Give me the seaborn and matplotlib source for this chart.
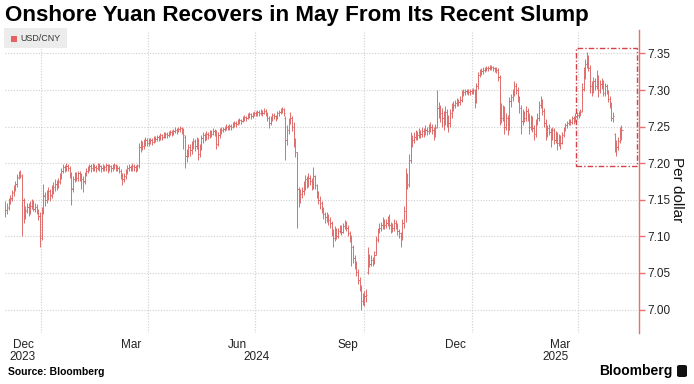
import matplotlib
matplotlib.use("Agg")
import matplotlib.pyplot as plt
import matplotlib.transforms as mtransforms
from matplotlib import font_manager
from matplotlib.patches import Rectangle, FancyBboxPatch
import numpy as np
import pandas as pd
import seaborn as sns

# ---- data : USD/CNY daily bars, 30 Nov 2023 -> 7 May 2025 (weekdays) ----
start_date = "2023-11-30"
end_date = "2025-05-07"

open_ = [
    7.132,
    # Dec 2023
    7.136, 7.139, 7.147, 7.151, 7.159, 7.166, 7.171, 7.181, 7.186, 7.183, 7.150, 7.128, 7.136, 7.140, 7.133, 7.142, 7.146, 7.138, 7.140, 7.135, 7.128,
    # Jan 2024
    7.100, 7.134, 7.156, 7.150, 7.158, 7.162, 7.156, 7.164, 7.168, 7.172, 7.170, 7.176, 7.181, 7.190, 7.195, 7.192, 7.196, 7.194, 7.184, 7.166, 7.178, 7.185, 7.180,
    # Feb 2024
    7.186, 7.182, 7.178, 7.176, 7.185, 7.190, 7.192, 7.196, 7.193, 7.197, 7.195, 7.194, 7.198, 7.196, 7.194, 7.196, 7.195, 7.197, 7.193, 7.196, 7.194,
    # Mar 2024
    7.196, 7.197, 7.195, 7.194, 7.190, 7.184, 7.178, 7.182, 7.188, 7.193, 7.195, 7.194, 7.196, 7.195, 7.192, 7.197, 7.222, 7.226, 7.224, 7.228, 7.232,
    # Apr 2024
    7.228, 7.230, 7.232, 7.229, 7.234, 7.233, 7.236, 7.234, 7.238, 7.236, 7.239, 7.240, 7.238, 7.241, 7.243, 7.241, 7.244, 7.246, 7.244, 7.247, 7.248, 7.245,
    # May 2024
    7.236, 7.210, 7.214, 7.222, 7.218, 7.226, 7.230, 7.224, 7.232, 7.212, 7.222, 7.234, 7.238, 7.236, 7.240, 7.238, 7.242, 7.240, 7.244, 7.242, 7.226, 7.238, 7.244,
    # Jun 2024
    7.246, 7.247, 7.248, 7.250, 7.249, 7.251, 7.250, 7.253, 7.255, 7.254, 7.257, 7.259, 7.258, 7.261, 7.263, 7.262, 7.265, 7.267, 7.264, 7.267,
    # Jul 2024
    7.268, 7.268, 7.270, 7.268, 7.271, 7.269, 7.272, 7.268, 7.262, 7.255, 7.262, 7.266, 7.264, 7.262, 7.268, 7.270, 7.272, 7.274, 7.262, 7.232, 7.245, 7.258, 7.262,
    # Aug 2024
    7.250, 7.228, 7.215, 7.165, 7.150, 7.158, 7.162, 7.170, 7.178, 7.172, 7.180, 7.176, 7.168, 7.182, 7.170, 7.158, 7.150, 7.145, 7.138, 7.130, 7.126, 7.128,
    # Sep 2024
    7.122, 7.118, 7.105, 7.098, 7.110, 7.100, 7.108, 7.112, 7.106, 7.114, 7.118, 7.112, 7.104, 7.098, 7.085, 7.070, 7.062, 7.052, 7.040, 7.030, 7.012,
    # Oct 2024
    7.016, 7.018, 7.052, 7.072, 7.062, 7.068, 7.064, 7.078, 7.096, 7.108, 7.112, 7.115, 7.120, 7.116, 7.118, 7.122, 7.115, 7.110, 7.112, 7.118, 7.115, 7.108, 7.104,
    # Nov 2024
    7.098, 7.118, 7.135, 7.182, 7.172, 7.205, 7.225, 7.232, 7.236, 7.240, 7.238, 7.242, 7.240, 7.244, 7.242, 7.246, 7.244, 7.248, 7.250, 7.246, 7.240,
    # Dec 2024
    7.250, 7.275, 7.272, 7.268, 7.262, 7.258, 7.270, 7.262, 7.255, 7.268, 7.276, 7.280, 7.282, 7.284, 7.283, 7.286, 7.296, 7.297, 7.298, 7.299, 7.297, 7.298,
    # Jan 2025
    7.299, 7.300, 7.285, 7.305, 7.320, 7.325, 7.326, 7.328, 7.329, 7.330, 7.330, 7.331, 7.331, 7.330, 7.329, 7.328, 7.318, 7.275, 7.262, 7.275, 7.250, 7.262, 7.250,
    # Feb 2025
    7.285, 7.290, 7.298, 7.305, 7.300, 7.290, 7.275, 7.258, 7.268, 7.262, 7.272, 7.265, 7.250, 7.262, 7.248, 7.240, 7.255, 7.262, 7.280, 7.286,
    # Mar 2025
    7.272, 7.255, 7.240, 7.248, 7.242, 7.236, 7.245, 7.232, 7.240, 7.228, 7.236, 7.228, 7.238, 7.246, 7.252, 7.255, 7.258, 7.256, 7.262, 7.258, 7.264,
    # Apr 2025
    7.266, 7.268, 7.272, 7.302, 7.318, 7.335, 7.345, 7.330, 7.305, 7.300, 7.312, 7.305, 7.318, 7.300, 7.308, 7.312, 7.296, 7.305, 7.298, 7.288, 7.280, 7.262,
    # May 2025
    7.240, 7.225, 7.222, 7.230, 7.238,
]

high = [
    7.148,
    7.146, 7.152, 7.156, 7.164, 7.170, 7.176, 7.185, 7.190, 7.191, 7.185, 7.152, 7.142, 7.146, 7.145, 7.148, 7.151, 7.150, 7.145, 7.144, 7.138, 7.133,
    7.140, 7.172, 7.160, 7.164, 7.168, 7.165, 7.170, 7.175, 7.178, 7.177, 7.180, 7.186, 7.194, 7.199, 7.198, 7.200, 7.199, 7.196, 7.188, 7.182, 7.188, 7.188, 7.190,
    7.189, 7.186, 7.182, 7.188, 7.194, 7.196, 7.199, 7.199, 7.200, 7.199, 7.198, 7.200, 7.200, 7.198, 7.199, 7.198, 7.200, 7.199, 7.199, 7.198, 7.199,
    7.200, 7.199, 7.198, 7.196, 7.192, 7.187, 7.186, 7.192, 7.197, 7.199, 7.198, 7.200, 7.199, 7.197, 7.199, 7.228, 7.232, 7.230, 7.233, 7.236, 7.234,
    7.234, 7.235, 7.234, 7.237, 7.237, 7.239, 7.238, 7.241, 7.240, 7.242, 7.243, 7.242, 7.244, 7.246, 7.245, 7.247, 7.249, 7.248, 7.250, 7.251, 7.250, 7.248,
    7.238, 7.220, 7.226, 7.226, 7.230, 7.234, 7.233, 7.236, 7.234, 7.226, 7.238, 7.242, 7.241, 7.244, 7.243, 7.246, 7.245, 7.248, 7.247, 7.245, 7.242, 7.248, 7.249,
    7.250, 7.251, 7.253, 7.252, 7.254, 7.253, 7.256, 7.258, 7.257, 7.260, 7.262, 7.261, 7.264, 7.266, 7.265, 7.268, 7.270, 7.268, 7.270, 7.271,
    7.272, 7.273, 7.273, 7.274, 7.273, 7.275, 7.274, 7.270, 7.264, 7.265, 7.269, 7.268, 7.266, 7.271, 7.273, 7.275, 7.277, 7.276, 7.264, 7.252, 7.262, 7.270, 7.265,
    7.256, 7.235, 7.215, 7.168, 7.165, 7.168, 7.176, 7.184, 7.182, 7.186, 7.184, 7.180, 7.195, 7.184, 7.172, 7.162, 7.155, 7.148, 7.140, 7.134, 7.134, 7.131,
    7.126, 7.121, 7.110, 7.114, 7.112, 7.112, 7.116, 7.115, 7.118, 7.122, 7.121, 7.115, 7.108, 7.102, 7.088, 7.074, 7.066, 7.056, 7.044, 7.034, 7.022,
    7.026, 7.028, 7.085, 7.076, 7.074, 7.072, 7.080, 7.100, 7.112, 7.118, 7.120, 7.126, 7.124, 7.124, 7.128, 7.130, 7.120, 7.118, 7.124, 7.122, 7.118, 7.110, 7.106,
    7.124, 7.142, 7.193, 7.186, 7.212, 7.243, 7.238, 7.242, 7.246, 7.244, 7.248, 7.246, 7.250, 7.248, 7.252, 7.250, 7.254, 7.256, 7.253, 7.250, 7.254,
    7.300, 7.283, 7.280, 7.276, 7.272, 7.278, 7.274, 7.266, 7.274, 7.282, 7.285, 7.287, 7.289, 7.288, 7.292, 7.300, 7.301, 7.302, 7.302, 7.301, 7.301, 7.302,
    7.303, 7.302, 7.310, 7.325, 7.329, 7.330, 7.331, 7.332, 7.333, 7.333, 7.334, 7.334, 7.333, 7.332, 7.331, 7.330, 7.320, 7.282, 7.280, 7.278, 7.268, 7.266, 7.290,
    7.295, 7.302, 7.312, 7.310, 7.304, 7.292, 7.280, 7.274, 7.272, 7.278, 7.276, 7.268, 7.266, 7.264, 7.252, 7.260, 7.268, 7.285, 7.292, 7.288,
    7.276, 7.260, 7.252, 7.254, 7.248, 7.250, 7.248, 7.244, 7.242, 7.240, 7.238, 7.242, 7.250, 7.255, 7.258, 7.261, 7.261, 7.265, 7.264, 7.268, 7.270,
    7.272, 7.274, 7.310, 7.331, 7.342, 7.352, 7.348, 7.334, 7.312, 7.318, 7.316, 7.327, 7.320, 7.314, 7.316, 7.314, 7.310, 7.308, 7.300, 7.292, 7.284, 7.270,
    7.241, 7.232, 7.236, 7.250, 7.252,
]

low = [
    7.126,
    7.130, 7.136, 7.144, 7.148, 7.155, 7.162, 7.168, 7.178, 7.180, 7.100, 7.118, 7.124, 7.132, 7.128, 7.130, 7.138, 7.135, 7.133, 7.130, 7.122, 7.086,
    7.095, 7.130, 7.142, 7.145, 7.150, 7.148, 7.152, 7.158, 7.162, 7.164, 7.166, 7.172, 7.178, 7.186, 7.188, 7.190, 7.189, 7.180, 7.143, 7.160, 7.174, 7.176, 7.176,
    7.176, 7.165, 7.160, 7.172, 7.182, 7.186, 7.189, 7.188, 7.190, 7.190, 7.188, 7.191, 7.190, 7.188, 7.190, 7.189, 7.190, 7.186, 7.189, 7.188, 7.190,
    7.192, 7.190, 7.189, 7.186, 7.178, 7.170, 7.174, 7.179, 7.185, 7.189, 7.189, 7.190, 7.190, 7.188, 7.190, 7.194, 7.215, 7.218, 7.220, 7.224, 7.224,
    7.224, 7.226, 7.225, 7.227, 7.229, 7.230, 7.230, 7.232, 7.232, 7.234, 7.235, 7.234, 7.236, 7.238, 7.237, 7.239, 7.241, 7.240, 7.242, 7.243, 7.240, 7.220,
    7.193, 7.202, 7.208, 7.210, 7.212, 7.220, 7.216, 7.220, 7.205, 7.208, 7.218, 7.228, 7.230, 7.232, 7.233, 7.235, 7.236, 7.238, 7.237, 7.220, 7.224, 7.234, 7.240,
    7.242, 7.244, 7.245, 7.245, 7.246, 7.246, 7.248, 7.250, 7.250, 7.252, 7.254, 7.254, 7.256, 7.258, 7.258, 7.260, 7.262, 7.260, 7.262, 7.264,
    7.264, 7.265, 7.265, 7.266, 7.265, 7.267, 7.265, 7.258, 7.248, 7.252, 7.258, 7.260, 7.258, 7.260, 7.265, 7.267, 7.269, 7.264, 7.205, 7.225, 7.240, 7.254, 7.244,
    7.222, 7.208, 7.112, 7.140, 7.145, 7.152, 7.156, 7.164, 7.166, 7.168, 7.170, 7.163, 7.165, 7.165, 7.152, 7.144, 7.138, 7.132, 7.124, 7.118, 7.120, 7.115,
    7.112, 7.100, 7.085, 7.094, 7.096, 7.098, 7.104, 7.102, 7.104, 7.110, 7.108, 7.100, 7.092, 7.060, 7.064, 7.056, 7.046, 7.035, 7.025, 7.000, 7.006,
    7.005, 7.010, 7.048, 7.058, 7.060, 7.060, 7.062, 7.074, 7.092, 7.104, 7.108, 7.110, 7.110, 7.112, 7.114, 7.110, 7.104, 7.106, 7.108, 7.110, 7.102, 7.098, 7.085,
    7.095, 7.112, 7.120, 7.165, 7.168, 7.200, 7.222, 7.228, 7.232, 7.232, 7.234, 7.234, 7.236, 7.236, 7.238, 7.238, 7.240, 7.243, 7.240, 7.232, 7.236,
    7.248, 7.262, 7.256, 7.250, 7.246, 7.252, 7.250, 7.242, 7.250, 7.262, 7.272, 7.276, 7.278, 7.278, 7.280, 7.284, 7.292, 7.293, 7.294, 7.293, 7.293, 7.294,
    7.294, 7.275, 7.282, 7.302, 7.318, 7.321, 7.322, 7.324, 7.326, 7.326, 7.327, 7.327, 7.326, 7.325, 7.323, 7.312, 7.252, 7.255, 7.258, 7.240, 7.246, 7.238, 7.245,
    7.277, 7.285, 7.292, 7.294, 7.284, 7.268, 7.240, 7.252, 7.256, 7.258, 7.258, 7.240, 7.246, 7.242, 7.232, 7.236, 7.252, 7.258, 7.276, 7.266,
    7.250, 7.232, 7.236, 7.238, 7.222, 7.232, 7.226, 7.228, 7.218, 7.224, 7.220, 7.226, 7.236, 7.244, 7.248, 7.252, 7.252, 7.254, 7.254, 7.256, 7.260,
    7.262, 7.264, 7.270, 7.298, 7.315, 7.330, 7.326, 7.296, 7.292, 7.296, 7.300, 7.302, 7.290, 7.296, 7.302, 7.292, 7.292, 7.294, 7.284, 7.276, 7.258, 7.256,
    7.215, 7.210, 7.218, 7.228, 7.232,
]

close = [
    7.136,
    7.140, 7.148, 7.152, 7.160, 7.165, 7.172, 7.180, 7.186, 7.184, 7.150, 7.128, 7.135, 7.140, 7.132, 7.142, 7.145, 7.138, 7.140, 7.135, 7.128, 7.098,
    7.135, 7.155, 7.150, 7.158, 7.162, 7.155, 7.165, 7.168, 7.172, 7.170, 7.175, 7.180, 7.190, 7.195, 7.192, 7.196, 7.194, 7.185, 7.165, 7.178, 7.185, 7.180, 7.186,
    7.182, 7.178, 7.175, 7.185, 7.190, 7.192, 7.196, 7.193, 7.197, 7.195, 7.194, 7.198, 7.196, 7.194, 7.196, 7.195, 7.197, 7.193, 7.196, 7.194, 7.196,
    7.197, 7.195, 7.194, 7.190, 7.184, 7.178, 7.182, 7.188, 7.193, 7.195, 7.194, 7.196, 7.195, 7.192, 7.196, 7.222, 7.226, 7.224, 7.228, 7.232, 7.228,
    7.230, 7.232, 7.229, 7.234, 7.233, 7.236, 7.234, 7.238, 7.236, 7.239, 7.240, 7.238, 7.241, 7.243, 7.241, 7.244, 7.246, 7.244, 7.247, 7.248, 7.245, 7.238,
    7.210, 7.214, 7.222, 7.218, 7.226, 7.230, 7.224, 7.232, 7.212, 7.222, 7.234, 7.238, 7.236, 7.240, 7.238, 7.242, 7.240, 7.244, 7.242, 7.226, 7.238, 7.244, 7.246,
    7.247, 7.248, 7.250, 7.249, 7.251, 7.250, 7.253, 7.255, 7.254, 7.257, 7.259, 7.258, 7.261, 7.263, 7.262, 7.265, 7.267, 7.264, 7.267, 7.268,
    7.268, 7.270, 7.268, 7.271, 7.269, 7.272, 7.268, 7.262, 7.255, 7.262, 7.266, 7.264, 7.262, 7.268, 7.270, 7.272, 7.274, 7.268, 7.232, 7.245, 7.258, 7.262, 7.250,
    7.228, 7.215, 7.165, 7.150, 7.158, 7.162, 7.170, 7.178, 7.172, 7.180, 7.176, 7.168, 7.182, 7.170, 7.158, 7.150, 7.145, 7.138, 7.130, 7.126, 7.128, 7.122,
    7.118, 7.105, 7.098, 7.110, 7.100, 7.108, 7.112, 7.106, 7.114, 7.118, 7.112, 7.104, 7.098, 7.085, 7.070, 7.062, 7.052, 7.040, 7.030, 7.012, 7.016,
    7.018, 7.020, 7.072, 7.062, 7.068, 7.064, 7.075, 7.095, 7.108, 7.112, 7.115, 7.120, 7.116, 7.118, 7.122, 7.115, 7.110, 7.112, 7.118, 7.115, 7.108, 7.104, 7.098,
    7.118, 7.135, 7.182, 7.170, 7.205, 7.225, 7.232, 7.236, 7.240, 7.238, 7.242, 7.240, 7.244, 7.242, 7.246, 7.244, 7.248, 7.250, 7.246, 7.240, 7.248,
    7.275, 7.272, 7.268, 7.262, 7.258, 7.270, 7.262, 7.255, 7.268, 7.276, 7.280, 7.282, 7.284, 7.283, 7.286, 7.296, 7.297, 7.298, 7.299, 7.297, 7.298, 7.299,
    7.300, 7.285, 7.305, 7.320, 7.325, 7.326, 7.328, 7.329, 7.330, 7.330, 7.331, 7.331, 7.330, 7.329, 7.328, 7.318, 7.275, 7.262, 7.275, 7.250, 7.262, 7.245, 7.285,
    7.290, 7.298, 7.305, 7.300, 7.290, 7.275, 7.258, 7.268, 7.262, 7.272, 7.265, 7.250, 7.262, 7.248, 7.240, 7.255, 7.262, 7.280, 7.286, 7.272,
    7.255, 7.240, 7.248, 7.242, 7.236, 7.245, 7.232, 7.240, 7.228, 7.236, 7.228, 7.238, 7.246, 7.252, 7.255, 7.258, 7.256, 7.262, 7.258, 7.264, 7.266,
    7.268, 7.270, 7.302, 7.318, 7.335, 7.345, 7.330, 7.305, 7.300, 7.312, 7.305, 7.318, 7.300, 7.308, 7.312, 7.296, 7.305, 7.298, 7.288, 7.280, 7.262, 7.265,
    7.225, 7.222, 7.230, 7.238, 7.245,
]

y_ticks = [7.00, 7.05, 7.10, 7.15, 7.20, 7.25, 7.30, 7.35]
month_labels = ["Dec", "Mar", "Jun", "Sep", "Dec", "Mar"]
month_label_dates = ["2023-12-15", "2024-03-15", "2024-06-14", "2024-09-17", "2024-12-17", "2025-03-17"]
quarter_dates = ["2024-01-01", "2024-04-01", "2024-07-01", "2024-10-01", "2025-01-01", "2025-04-01"]
years = ["2023", "2024", "2025"]

title = "Onshore Yuan Recovers in May From Its Recent Slump"

dates = pd.bdate_range(start_date, end_date)
lens = {k: len(v) for k, v in dict(open_=open_, high=high, low=low, close=close).items()}
assert all(n == len(dates) for n in lens.values()), (len(dates), lens)

df = pd.DataFrame({"date": dates, "open": open_, "high": high, "low": low, "close": close})
df["i"] = np.arange(len(df))

# ---- style ----
sns.set_theme(style="white")
names = {f.name for f in font_manager.fontManager.ttflist}
base_font = "Liberation Sans" if "Liberation Sans" in names else "DejaVu Sans"
narrow_font = "Liberation Sans Narrow" if "Liberation Sans Narrow" in names else base_font
plt.rcParams["font.family"] = [base_font, "DejaVu Sans"]

red = "#dc6e6c"
axis_red = "#e8706e"
grid_col = "#cfcfcf"

W, H = 694, 384
fig = plt.figure(figsize=(W / 100, H / 100), dpi=100)
fig.patch.set_facecolor("white")

# axes box in pixels: left 5, right 639, top 30, bottom 333
ax = fig.add_axes([5 / W, 1 - 333 / H, 634 / W, 303 / H])
ax.set_facecolor("white")

x = df["i"].to_numpy()
ax.vlines(x, df["low"], df["high"], color=red, linewidth=0.7)
ax.hlines(df["open"], x - 0.7, x, color=red, linewidth=0.7)
ax.hlines(df["close"], x, x + 0.7, color=red, linewidth=0.7)

ax.set_xlim(-0.3, 384.7)
ax.set_ylim(6.968, 7.382)

# horizontal grid
ax.set_yticks(y_ticks)
ax.set_yticklabels([f"{v:.2f}" for v in y_ticks])
ax.grid(axis="y", color=grid_col, linestyle=(0, (1, 1.5)), linewidth=0.8)

# vertical quarter gridlines
date_pos = {d: i for i, d in enumerate(dates)}
q_pos = [date_pos[pd.Timestamp(d)] - 0.5 for d in quarter_dates]
ax.set_xticks(q_pos, minor=True)
ax.grid(axis="x", which="minor", color=grid_col, linestyle=(0, (1, 1.5)), linewidth=0.8)

# month labels
m_pos = [date_pos[pd.Timestamp(d)] for d in month_label_dates]
ax.set_xticks(m_pos)
ax.set_xticklabels(month_labels)
ax.tick_params(axis="x", which="both", length=0, pad=4, labelsize=8.5, labelcolor="#222222")

# year labels centred over the part of each year that is shown
x0, x1 = ax.get_xlim()
trans = mtransforms.blended_transform_factory(ax.transData, fig.transFigure)
for yr in years:
    idx = df.index[df["date"].dt.year == int(yr)]
    a = max(x0, idx.min() - 0.5)
    b = min(x1, idx.max() + 0.5) if yr != years[-1] else x1
    ax.text((a + b) / 2, 1 - 357 / H, yr, transform=trans, ha="center", va="center",
            fontsize=8.5, color="#222222")

# right axis
ax.yaxis.tick_right()
for s in ["left", "top", "bottom"]:
    ax.spines[s].set_visible(False)
ax.spines["right"].set_color(axis_red)
ax.spines["right"].set_linewidth(1.0)
ax.tick_params(axis="y", length=4, width=1.0, color=axis_red, pad=2, labelsize=8.5, labelcolor="#222222")

# highlight box
ax.add_patch(Rectangle((346.6, 7.196), 383.4 - 346.6, 7.357 - 7.196, fill=False,
                       edgecolor="#d4424a", linewidth=1.0, linestyle=(0, (4, 1.5, 1, 1.5))))

# legend chip
fig.patches.append(FancyBboxPatch((4 / W, 1 - 48 / H), 63 / W, 20 / H, boxstyle="square,pad=0",
                                  transform=fig.transFigure, facecolor="#ececec", edgecolor="none"))
fig.patches.append(Rectangle((11 / W, 1 - 42 / H), 6 / W, 6 / H, transform=fig.transFigure,
                             facecolor="#e8605e", edgecolor="none"))
fig.text(20 / W, 1 - 38.5 / H, "USD/CNY", fontsize=6.4, color="#333333", va="center", ha="left")

# y axis title
fig.text(677 / W, 1 - 190 / H, "Per dollar", rotation=270, fontsize=11, color="#111111",
         ha="center", va="center")

# title, fitted to the reference width
t = fig.text(5 / W, 1 - 15 / H, title, fontsize=15, fontweight="bold", family=narrow_font,
             color="black", ha="left", va="center")
fig.canvas.draw()
tw = t.get_window_extent().width
t.set_fontsize(15 * 587 / tw)

# footer
fig.text(8 / W, 1 - 372 / H, "Source: Bloomberg", fontsize=7.5, fontweight="bold", color="black",
         ha="left", va="center")
fig.text(672 / W, 1 - 371 / H, "Bloomberg", fontsize=10, fontweight="bold", color="black",
         ha="right", va="center")
fig.patches.append(FancyBboxPatch((677 / W, 1 - 377 / H), 10 / W, 12 / H,
                                  boxstyle="round,pad=0,rounding_size=0.004",
                                  transform=fig.transFigure, facecolor="#111111", edgecolor="none"))

fig.savefig("out.png", dpi=100, facecolor="white")
